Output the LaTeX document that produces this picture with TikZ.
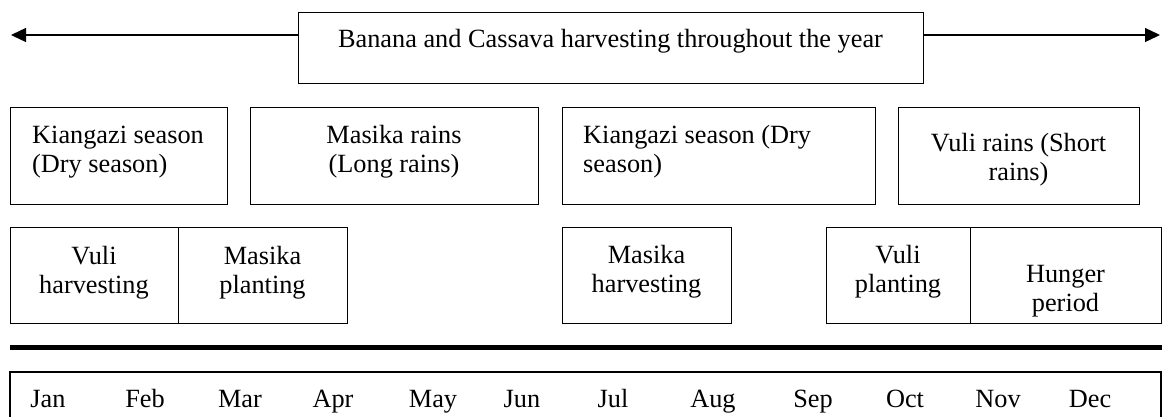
\documentclass[tikz,border=0pt]{standalone}
\usepackage{fontspec}
\setmainfont{Liberation Serif}
\usetikzlibrary{arrows.meta}
\tikzset{
  box/.style={draw, line width=1.3pt, inner sep=0pt, anchor=north west},
  txt/.style={inner sep=0pt, align=center, font=\fontsize{26.3}{29}\selectfont},
  ctxt/.style={txt, anchor=north},
  ltxt/.style={txt, anchor=north west, align=left},
  mon/.style={inner sep=0pt, anchor=base, font=\fontsize{26.3}{29}\selectfont},
  arr/.style={line width=1.3pt, -{Triangle[length=15pt,width=14pt]}},
}
\begin{document}
\begin{tikzpicture}[x=1pt,y=-1pt]
\useasboundingbox (0,0) rectangle (1162,416);
% top box with arrows
\node[box, minimum width=625pt, minimum height=71pt] (top) at (298,12) {};
\node[ctxt] (toptxt) at (610.5,26.7) {\strut Banana and Cassava harvesting throughout the year};
\coordinate (Ltip) at (11,35);
\coordinate (Rtip) at (1160,35);
\draw[arr] (top.west |- Ltip) -- (Ltip);
\draw[arr] (top.east |- Rtip) -- (Rtip);
% seasons row
\node[box, minimum width=217pt, minimum height=97pt] (s1) at (10,107) {};
\node[box, minimum width=288pt, minimum height=97pt] (s2) at (250,107) {};
\node[box, minimum width=313pt, minimum height=97pt] (s3) at (562,107) {};
\node[box, minimum width=241pt, minimum height=97pt] (s4) at (898,107) {};
\node[ltxt] (s1t) at (32,122.7) {\strut Kiangazi season\\(Dry season)};
\node[ctxt] (s2t) at (394,122.7) {\strut Masika rains\\(Long rains)};
\node[ltxt] (s3t) at (583,122.7) {\strut Kiangazi season (Dry\\season)};
\node[ctxt] (s4t) at (1018.5,130.7) {\strut Vuli rains (Short\\rains)};
% activities row
\node[box, minimum width=168pt, minimum height=96pt] (a1) at (10,227) {};
\node[box, minimum width=169pt, minimum height=96pt] (a2) at (178,227) {};
\node[box, minimum width=169pt, minimum height=96pt] (a3) at (562,227) {};
\node[box, minimum width=144pt, minimum height=96pt] (a4) at (826,227) {};
\node[box, minimum width=191pt, minimum height=96pt] (a5) at (970,227) {};
\node[ctxt] (a1t) at (94,243.5) {\strut Vuli\\harvesting};
\node[ctxt] (a2t) at (262.5,243.5) {\strut Masika\\planting};
\node[ctxt] (a3t) at (646.5,243) {\strut Masika\\harvesting};
\node[ctxt] (a4t) at (898,243) {\strut Vuli\\planting};
\node[ctxt] (a5t) at (1065.5,261.7) {\strut Hunger\\period};
% thick rule
\coordinate (ruleL) at (10,347);
\coordinate (ruleR) at (1162,347);
\draw[line width=5pt] (ruleL) -- (ruleR);
% month box
\begin{scope}
\clip (0,0) rectangle (1162,416);
\draw[line width=1.3pt] (10,440) |- (1161,372) -- (1161,440);
\end{scope}
\foreach \m/\x in {Jan/48,Feb/145,Mar/240,Apr/333,May/433,Jun/522,Jul/613,Aug/713,Sep/813,Oct/905,Nov/998,Dec/1090}
  \node[mon] (m\m) at (\x,407) {\m};
\end{tikzpicture}
\end{document}
